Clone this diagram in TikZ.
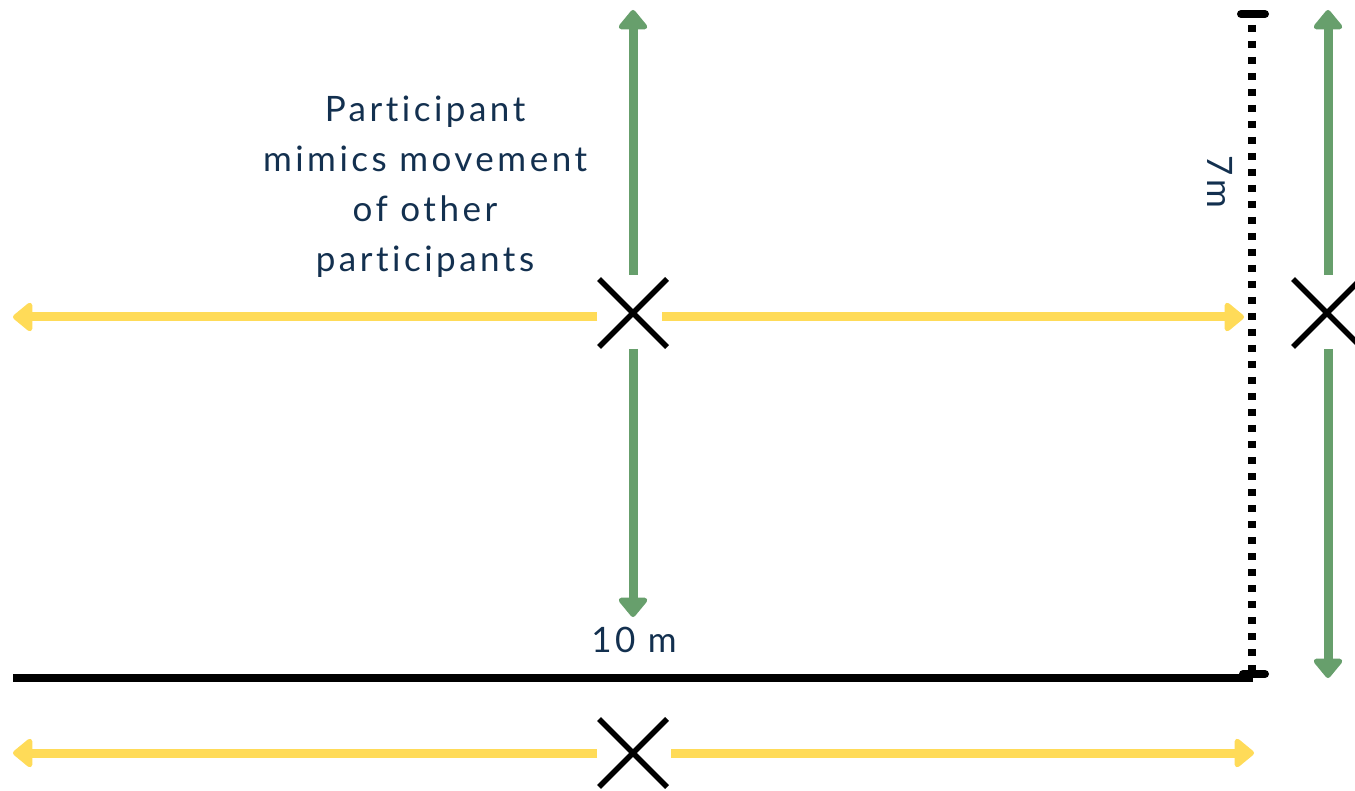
\documentclass[tikz,border=0pt]{standalone}
\usepackage{fontspec}
\setmainfont{Lato}[LetterSpace=10,Ligatures={NoCommon,NoRare}]
\usetikzlibrary{arrows.meta,shapes.misc}
\definecolor{mgreen}{HTML}{679F6C}
\definecolor{myellow}{HTML}{FFDB58}
\definecolor{mnavy}{HTML}{13304F}
\tikzset{
  greenarrow/.style={draw=mgreen, line width=9pt, -{Triangle[round,width=33pt,length=21pt]}},
  yellowarrow/.style={draw=myellow, line width=9pt, -{Triangle[round,width=33pt,length=21pt]}},
  crossmark/.style={cross out, draw=black, line width=5.5pt, minimum size=68pt, inner sep=0pt, outer sep=0pt},
  lbl/.style={text=mnavy, font=\fontsize{35}{50}\selectfont, inner sep=0pt},
}
\begin{document}
\begin{tikzpicture}[x=1pt,y=-1pt]
\useasboundingbox (0,0) rectangle (1355,791);
\clip (0,0) rectangle (1355,791);
% crosses
\node[crossmark] (xc) at (633,313) {};
\node[crossmark] (xr) at (1327,313) {};
\node[crossmark] (xb) at (633,753) {};
% coordinates for arrow ends
\coordinate (gtop) at (633,10);
\coordinate (gbot) at (633,617);
\coordinate (ylt) at (13,317);
\coordinate (yrt) at (1244,317);
\coordinate (rgtop) at (1328,10);
\coordinate (rgbot) at (1328,678);
\coordinate (bylt) at (13,753);
\coordinate (byrt) at (1254,753);
% centre arrows
\draw[greenarrow] (633,275) -- (gtop);
\draw[greenarrow] (633,349) -- (gbot);
\draw[yellowarrow] (597,317) -- (ylt);
\draw[yellowarrow] (662,317) -- (yrt);
% right arrows
\draw[greenarrow] (1328,275) -- (rgtop);
\draw[greenarrow] (1328,349) -- (rgbot);
% bottom arrows
\draw[yellowarrow] (597,753) -- (bylt);
\draw[yellowarrow] (671,753) -- (byrt);
% 10 m baseline
\coordinate (bl) at (13,678);
\coordinate (br) at (1253,678);
\draw[line width=8pt] (bl) -- (br);
% 7 m dotted
\coordinate (dt) at (1252,25);
\coordinate (db) at (1252,672);
\draw[line width=7.5pt, dash pattern=on 7pt off 9pt] (dt) -- (db);
\coordinate (tl) at (1241,14);
\coordinate (tr) at (1265,14);
\draw[line width=8pt, line cap=round] (tl) -- (tr);
\coordinate (bkl) at (1243,674);
\coordinate (bkr) at (1265,674);
\draw[line width=8pt, line cap=round] (bkl) -- (bkr);
% labels
\node[lbl, align=center, anchor=north] (txt) at (425,95.5) {Participant\\mimics movement\\of other\\participants};
\node[lbl, anchor=base] (ten) at (634,652) {10 m};
\node[lbl, rotate=-90] (seven) at (1220,182) {7m};
\end{tikzpicture}
\end{document}
